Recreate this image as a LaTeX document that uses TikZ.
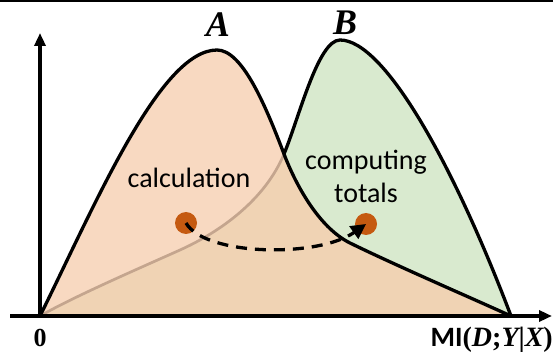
\documentclass[tikz,border=0pt]{standalone}
\usepackage{fontspec}
\setmainfont{Carlito}
\newfontfamily\serifbf{Liberation Serif}
\usetikzlibrary{arrows.meta}
\definecolor{aFill}{HTML}{F8D9C1}
\definecolor{ovFill}{HTML}{F0D3B4}
\definecolor{bFill}{HTML}{D9EACF}
\definecolor{bHidden}{HTML}{C4A58E}
\definecolor{dotC}{HTML}{C55A11}
\tikzset{
  curveline/.style={line width=3.3pt, line join=round, line cap=round},
  axisline/.style={line width=3.8pt, -{Triangle[length=13pt,width=11pt]}},
  dotnode/.style={circle, fill=dotC, minimum size=22pt, inner sep=0pt},
  lbl/.style={font=\fontsize{28}{34}\selectfont, inner sep=0pt, anchor=base},
  biglbl/.style={font=\serifbf\bfseries\itshape\fontsize{36}{40}\selectfont, inner sep=0pt, anchor=base},
  axlbl/.style={inner sep=0pt, anchor=base}
}
\def\curveA{(40,316) .. controls (95,205) and (160,50) .. (217,50)
  .. controls (242,50) and (265,104) .. (284,154)
  .. controls (295,183) and (318,227) .. (350,243)
  .. controls (395,265) and (460,293) .. (511,316)}
\def\curveB{(40,316) .. controls (75,296) and (140,268) .. (180,250)
  .. controls (220,232) and (265,200) .. (284,154)
  .. controls (299,118) and (318,40) .. (340,40)
  .. controls (385,40) and (455,168) .. (511,316)}
\begin{document}
\begin{tikzpicture}[x=1pt, y=-1pt]
\useasboundingbox (0,0) rectangle (553,352);
% top rule
\fill[black] (0,0) rectangle (553,2.5);
% curve B: fill and outline
\fill[bFill] \curveB -- cycle;
\draw[curveline] \curveB;
% curve A fill covers B inside it
\fill[aFill] \curveA -- cycle;
\begin{scope}
  \clip \curveA -- cycle;
  \fill[ovFill] \curveB -- cycle;
  \draw[bHidden, line width=2.7pt, line cap=round] \curveB;
\end{scope}
% curve A outline
\draw[curveline] \curveA;
% axes
\coordinate (O) at (40,316);
\coordinate (xs) at (10,316);
\coordinate (xe) at (552,316);
\coordinate (ye) at (40,33);
\draw[axisline] (xs) -- (xe);
\draw[axisline] (O) -- (ye);
% dots and arrow
\node[dotnode] (d1) at (186,223) {};
\node[dotnode] (d2) at (366,224) {};
\draw[line width=3.3pt, dash pattern=on 11pt off 8pt, -{Triangle[length=15pt,width=15pt]}]
  (d1.center) .. controls (205,256) and (318,258) .. (d2.center);
% labels
\node[biglbl] (la) at (218,37) {A};
\node[biglbl] (lb) at (345,35) {B};
\node[lbl] (calc) at (189,188) {calculation};
\node[lbl] (comp) at (366,170) {computing};
\node[lbl] (tot) at (366,203) {totals};
\node[axlbl, font=\serifbf\bfseries\fontsize{26}{30}\selectfont] (zero) at (40,346) {0};
\node[axlbl, anchor=base east] (mi) at (553,346) {\fontsize{28}{32}\selectfont\bfseries MI\serifbf(\itshape D\upshape;\itshape Y\upshape|\itshape X\upshape)};
\end{tikzpicture}
\end{document}
